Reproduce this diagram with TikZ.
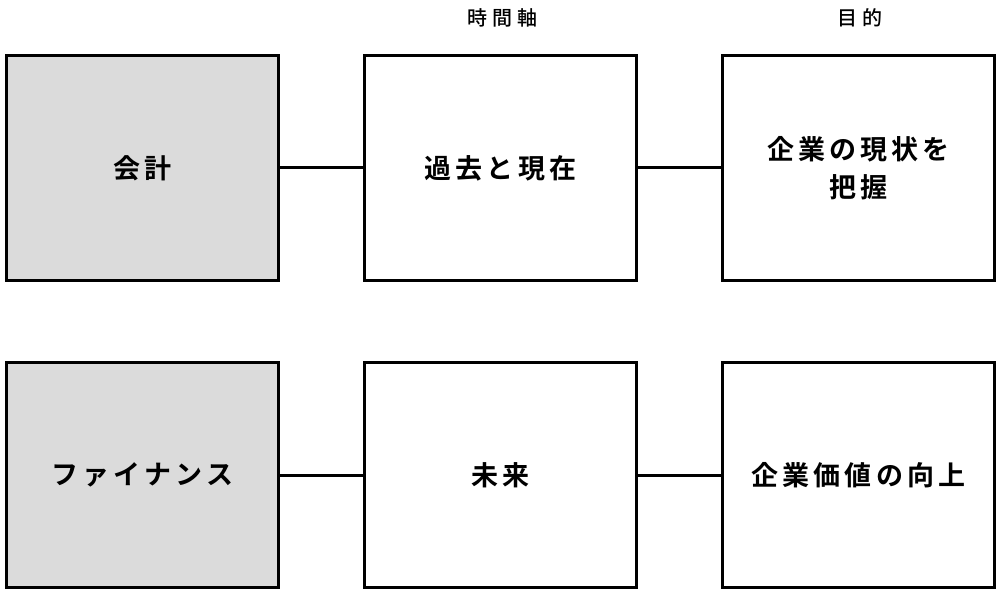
\documentclass[tikz,border=0pt]{standalone}
\usepackage{fontspec}
\newfontfamily\cjk[LetterSpace=15]{Noto Sans CJK JP Bold}
\newfontfamily\cjkm[LetterSpace=25]{Noto Sans CJK JP Medium}
\begin{document}
\begin{tikzpicture}[x=1pt,y=-1pt,
  box/.style={draw=black,line width=3pt,minimum width=272pt,minimum height=225pt,anchor=north west,inner sep=0pt,font=\cjk\fontsize{27}{38}\selectfont,align=center},
  gbox/.style={box,fill=gray!28},
  head/.style={font=\cjkm\fontsize{20}{22}\selectfont},
  conn/.style={line width=3pt}]
\useasboundingbox (0,0) rectangle (1000,593);
\node[gbox] (a1) at (5,54) {会計};
\node[box] (b1) at (363,54) {過去と現在};
\node[box] (c1) at (721,54) {企業の現状を\\把握};
\node[gbox] (a2) at (5,361) {ファイナンス};
\node[box] (b2) at (363,361) {未来};
\node[box] (c2) at (721,361) {企業価値の向上};
\node[head] (h1) at (502,18) {時間軸};
\node[head] (h2) at (860,18) {目的};
\draw[conn] (a1) -- (b1); \draw[conn] (b1) -- (c1);
\draw[conn] (a2) -- (b2); \draw[conn] (b2) -- (c2);
\end{tikzpicture}
\end{document}
